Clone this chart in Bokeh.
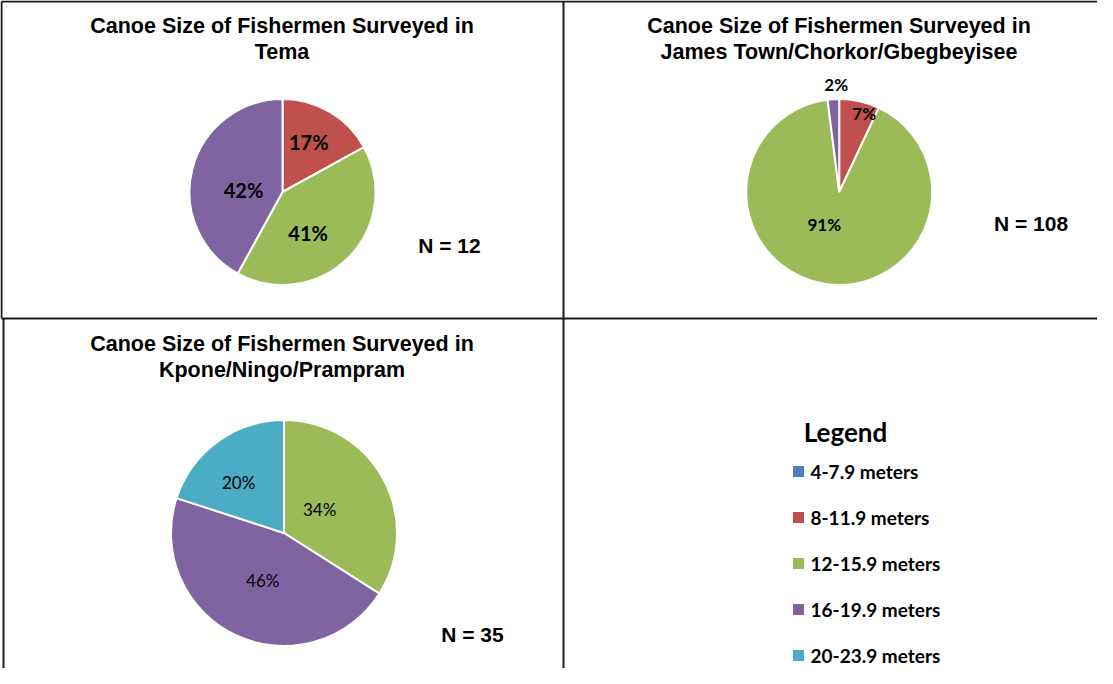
import math
from bokeh.plotting import figure
from bokeh.models import Range1d, ColumnDataSource
from bokeh.core.properties import value
from bokeh.embed import file_html
from bokeh.resources import INLINE

# ---------------- data ----------------
categories = ["4-7.9 meters", "8-11.9 meters", "12-15.9 meters", "16-19.9 meters", "20-23.9 meters"]
colors = ["#4F81BD", "#C0504D", "#9BBB59", "#8064A2", "#4BACC6"]

tema_pct = [0, 17, 41, 42, 0]
james_pct = [0, 7, 91, 2, 0]
kpone_pct = [0, 0, 34, 46, 20]

tema_n = 12
james_n = 108
kpone_n = 35

title_prefix = "Canoe Size of Fishermen Surveyed in"
tema_place = "Tema"
james_place = "James Town/Chorkor/Gbegbeyisee"
kpone_place = "Kpone/Ningo/Prampram"

# ---------------- layout (screen coords of reference) ----------------
W, H = 1097, 668
p = figure(width=W, height=H, output_backend="svg", toolbar_location=None,
           x_range=Range1d(8, 8 + W), y_range=Range1d(-(8 + H), -8),
           x_axis_location=None, y_axis_location=None, min_border=0,
           outline_line_color=None, background_fill_color="white",
           border_fill_color="white")
p.grid.visible = False

def Y(y):
    return -y

TITLE_FONT = value("Liberation Sans")
LABEL_FONT = value("Lato")

# panel borders (table grid)
border_segments = [((9, 9), (1105, 9)), ((9, 9), (9, 326)), ((571, 9), (571, 676)),
                   ((9, 326), (1105, 326)), ((11, 326), (11, 676))]
p.segment(x0=[s[0][0] for s in border_segments], y0=[Y(s[0][1]) for s in border_segments],
          x1=[s[1][0] for s in border_segments], y1=[Y(s[1][1]) for s in border_segments],
          line_color="#1a1a1a", line_width=2)

panels = [
    dict(pct=tema_pct, n=tema_n, place=tema_place, cx=290, cy=199.5, r=93,
         tx=289.5, ty1=33.5, ty2=59, nx=457, ny=253,
         lab_size="20px", lab_style="bold",
         lab_frac={1: 0.61, 2: 0.52, 3: 0.42}, lab_nudge={1: -3, 2: 13, 3: -12}),
    dict(pct=james_pct, n=james_n, place=james_place, cx=846.7, cy=199.5, r=93,
         tx=846.5, ty1=33.5, ty2=59, nx=1038.5, ny=231,
         lab_size="17px", lab_style="bold",
         lab_frac={1: 0.89, 2: 0.38, 3: 1.16}, lab_nudge={1: 5, 2: 16, 3: 2}),
    dict(pct=kpone_pct, n=kpone_n, place=kpone_place, cx=291.5, cy=540.5, r=113,
         tx=289.5, ty1=351, ty2=377, nx=480, ny=641.5,
         lab_size="17px", lab_style="normal",
         lab_frac={2: 0.38, 3: 0.46, 4: 0.6}, lab_nudge={2: -5, 3: -1, 4: -6}),
]

for pn in panels:
    vals = pn["pct"]
    total = float(sum(vals))
    starts, ends, cols, lx, ly, lt = [], [], [], [], [], []
    cum = 0.0
    for i, v in enumerate(vals):
        if v <= 0:
            continue
        c0 = cum / total
        c1 = (cum + v) / total
        cum += v
        starts.append(math.pi / 2 - 2 * math.pi * c1)
        ends.append(math.pi / 2 - 2 * math.pi * c0)
        cols.append(colors[i])
        mid = 2 * math.pi * (c0 + c1) / 2 + math.radians(pn["lab_nudge"].get(i, 0))
        f = pn["lab_frac"].get(i, 0.6) * pn["r"]
        lx.append(pn["cx"] + f * math.sin(mid))
        ly.append(Y(pn["cy"] - f * math.cos(mid)))
        lt.append(f"{v}%")
    src = ColumnDataSource(dict(s=starts, e=ends, c=cols))
    p.wedge(x=pn["cx"], y=Y(pn["cy"]), radius=pn["r"], start_angle="s", end_angle="e",
            fill_color="c", line_color="white", line_width=2, source=src)
    p.text(x=lx, y=ly, text=lt, text_font=LABEL_FONT, text_font_size=pn["lab_size"],
           text_font_style=pn["lab_style"], text_align="center", text_baseline="middle",
           text_color="black")
    p.text(x=[pn["tx"], pn["tx"]], y=[Y(pn["ty1"]), Y(pn["ty2"])],
           text=[title_prefix, pn["place"]], text_font=TITLE_FONT, text_font_size="21.5px",
           text_font_style="bold", text_align="center", text_baseline="middle",
           text_color="black")
    p.text(x=[pn["nx"]], y=[Y(pn["ny"])], text=[f"N = {pn['n']}"], text_font=TITLE_FONT,
           text_font_size="21px", text_font_style="bold", text_align="center",
           text_baseline="middle", text_color="black")

# legend panel
p.text(x=[853], y=[Y(439)], text=["Legend"], text_font=LABEL_FONT, text_font_size="26px",
       text_font_style="bold", text_align="center", text_baseline="middle", text_color="black")
leg_y = [Y(479 + 46 * k) for k in range(len(categories))]
p.rect(x=[806] * len(categories), y=leg_y, width=11, height=11, fill_color=colors,
       line_color=None)
p.text(x=[818] * len(categories), y=leg_y, text=categories, text_font=LABEL_FONT,
       text_font_size="19px", text_font_style="bold", text_align="left",
       text_baseline="middle", text_color="black")

open("out.html", "w").write(file_html(p, INLINE))
